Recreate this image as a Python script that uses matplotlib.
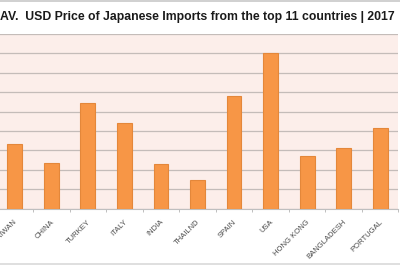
import numpy as np
import matplotlib
matplotlib.use('Agg')
import matplotlib.pyplot as plt
import matplotlib.transforms as mtransforms

# values in gridline units (y axis labels are cropped off in the reference)
countries = ['TAIWAN', 'CHINA', 'TURKEY', 'ITALY', 'INDIA', 'THAILND', 'SPAIN',
             'USA', 'HONG KONG', 'BANGLADESH', 'PORTUGAL']
avg_price = [3.33, 2.36, 5.45, 4.42, 2.30, 1.48, 5.81, 8.04, 2.70, 3.13, 4.18]
title = 'AV.  USD Price of Japanese Imports from the top 11 countries | 2017'

bar_color = '#F79646'
edge_color = '#E4873A'
plot_bg = '#FCEEEA'
grid_color = '#C4BCB9'
label_color = '#4A4A4A'

W, H = 400, 266
fig = plt.figure(figsize=(W / 100, H / 100), dpi=100)
fig.patch.set_facecolor('white')

# plot area in pixel coordinates
left, right, top, bottom = -3.3, 398.3, 34.0, 208.7
ax = fig.add_axes([left / W, 1 - bottom / H, (right - left) / W, (bottom - top) / H])
ax.set_facecolor(plot_bg)

x = np.arange(len(countries))
ax.bar(x, avg_price, width=0.41, color=bar_color, edgecolor=edge_color,
       linewidth=0.8, zorder=3)

ax.set_xlim(-0.5, len(countries) - 0.5)
ax.set_ylim(0, 9)
ax.set_yticks(np.arange(0, 10, 1))
ax.yaxis.grid(True, color=grid_color, linewidth=0.9, zorder=0)
ax.tick_params(axis='y', left=False, labelleft=False)

ax.set_xticks(x)
ax.set_xticklabels(countries, rotation=45, ha='right', va='top',
                   fontsize=5.5, color=label_color,
                   family=['Liberation Sans Narrow', 'Liberation Sans'])
ax.tick_params(axis='x', which='major', length=0, pad=7)
shift = mtransforms.ScaledTranslation(4 / 100, 0, fig.dpi_scale_trans)
for lbl in ax.get_xticklabels():
    lbl.set_transform(lbl.get_transform() + shift)
ax.set_xticks(np.arange(-0.5, len(countries), 1), minor=True)
ax.tick_params(axis='x', which='minor', length=2.2, color='#BFBFBF', width=0.7)

for side in ['top', 'left', 'right']:
    ax.spines[side].set_visible(False)
ax.spines['bottom'].set_color('#BFBFBF')
ax.spines['bottom'].set_linewidth(0.8)

# chart border lines (top and bottom edge of the excel chart area)
fig.add_artist(plt.Line2D([0, 1], [1 - 0.7 / H, 1 - 0.7 / H], color='#C8C8C8', linewidth=1.2))
fig.add_artist(plt.Line2D([0, 1], [1 - 263.5 / H, 1 - 263.5 / H], color='#D9D9D9', linewidth=1.2))

# title, scaled to span the same width as the reference
t = fig.text(0.0, 1 - 20 / H, title, ha='left', va='baseline', fontsize=9,
             fontweight='bold', color='#1a1a1a',
             family=['Liberation Sans Narrow', 'Liberation Sans'])
fig.canvas.draw()
w = t.get_window_extent().width
t.set_fontsize(9 * 397 / w)

fig.savefig('out.png', dpi=100, facecolor='white')
